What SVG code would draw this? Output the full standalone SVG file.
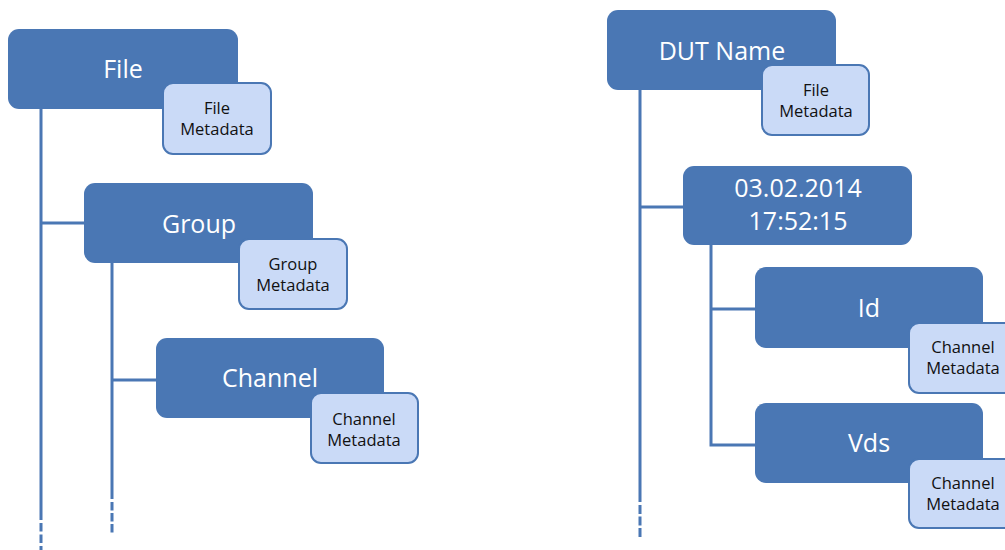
<svg xmlns="http://www.w3.org/2000/svg" width="1005" height="550" viewBox="0 0 1005 550">
<style>
.node{fill:#4a77b4;}
.meta{fill:#cadaf7;stroke:#4a77b4;stroke-width:2;}
.nt{fill:#ffffff;font-family:"Open Sans","Noto Sans",sans-serif;font-size:25px;text-anchor:middle;}
.mt{fill:#111111;font-family:"Open Sans","Noto Sans",sans-serif;font-size:16.5px;text-anchor:middle;}
.ln{stroke:#4a77b4;stroke-width:3;fill:none;}
</style>
<rect width="1005" height="550" fill="#ffffff"/>
<g id="connectors">
<line class="ln" x1="41" y1="105" x2="41" y2="520"/>
<line class="ln" x1="41" y1="523" x2="41" y2="550" stroke-dasharray="8.5,3"/>
<line class="ln" x1="41" y1="223" x2="88" y2="223"/>
<line class="ln" x1="112" y1="260" x2="112" y2="499"/>
<line class="ln" x1="112" y1="502" x2="112" y2="534" stroke-dasharray="8.5,2.5"/>
<line class="ln" x1="112" y1="380" x2="160" y2="380"/>
<line class="ln" x1="640" y1="86" x2="640" y2="502"/>
<line class="ln" x1="640" y1="505" x2="640" y2="537" stroke-dasharray="9,2.5"/>
<line class="ln" x1="640" y1="207" x2="687" y2="207"/>
<polyline class="ln" points="711,241 711,445 758,445"/>
<line class="ln" x1="711" y1="309" x2="758" y2="309"/>
</g>
<g id="file">
<rect class="node" x="8" y="29" width="230" height="80" rx="11"/>
<text class="nt" x="123" y="78">File</text>
</g>
<g id="file-metadata">
<rect class="meta" x="163" y="83" width="108" height="71" rx="10"/>
<text class="mt" x="217" y="114">File</text>
<text class="mt" x="217" y="135">Metadata</text>
</g>
<g id="group">
<rect class="node" x="84" y="183" width="229" height="80" rx="11"/>
<text class="nt" x="199" y="233">Group</text>
</g>
<g id="group-metadata">
<rect class="meta" x="239" y="239" width="108" height="70" rx="10"/>
<text class="mt" x="293" y="270">Group</text>
<text class="mt" x="293" y="291">Metadata</text>
</g>
<g id="channel">
<rect class="node" x="156" y="338" width="228" height="80" rx="11"/>
<text class="nt" x="270" y="387">Channel</text>
</g>
<g id="channel-metadata">
<rect class="meta" x="311" y="393" width="107" height="70" rx="10"/>
<text class="mt" x="364" y="425">Channel</text>
<text class="mt" x="364" y="446">Metadata</text>
</g>
<g id="dut-name">
<rect class="node" x="607" y="10" width="229" height="80" rx="11"/>
<text class="nt" x="722" y="60">DUT Name</text>
</g>
<g id="dut-file-metadata">
<rect class="meta" x="762" y="65" width="107" height="70" rx="10"/>
<text class="mt" x="816" y="96">File</text>
<text class="mt" x="816" y="117">Metadata</text>
</g>
<g id="date">
<rect class="node" x="683" y="166" width="229" height="79" rx="11"/>
<text class="nt" x="798" y="197">03.02.2014</text>
<text class="nt" x="798" y="230">17:52:15</text>
</g>
<g id="id">
<rect class="node" x="755" y="267" width="228" height="81" rx="11"/>
<text class="nt" x="869" y="317">Id</text>
</g>
<g id="id-metadata">
<rect class="meta" x="909" y="323" width="108" height="70" rx="10"/>
<text class="mt" x="963" y="353">Channel</text>
<text class="mt" x="963" y="374">Metadata</text>
</g>
<g id="vds">
<rect class="node" x="755" y="403" width="228" height="80" rx="11"/>
<text class="nt" x="869" y="452">Vds</text>
</g>
<g id="vds-metadata">
<rect class="meta" x="909" y="459" width="108" height="69" rx="10"/>
<text class="mt" x="963" y="489">Channel</text>
<text class="mt" x="963" y="510">Metadata</text>
</g>
</svg>
